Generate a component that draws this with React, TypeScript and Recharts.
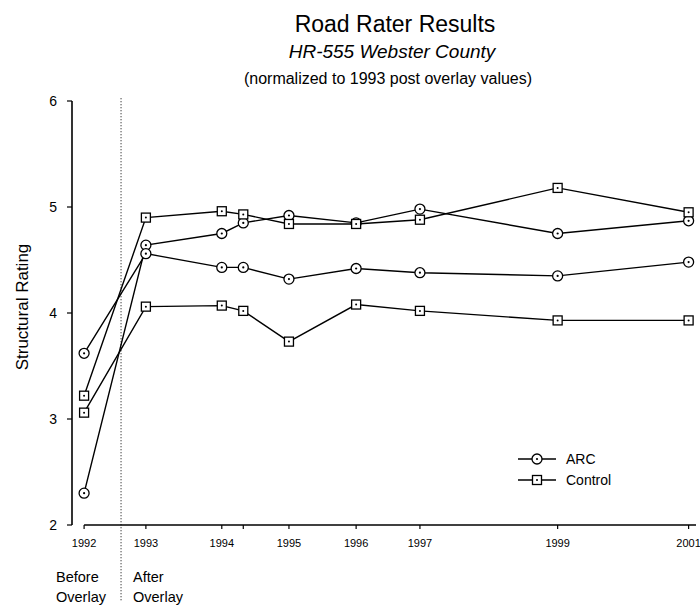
import React from 'react';
import { LineChart, Line, XAxis, YAxis, ReferenceLine } from 'recharts';

// measurement dates (decimal years) and the year labels printed under them
const dates = [1992.45, 1993.37, 1994.5, 1994.82, 1995.5, 1996.5, 1997.45, 1999.5, 2001.45];
const yearLabels = ['1992', '1993', '1994', '', '1995', '1996', '1997', '1999', '2001'];

// normalized structural ratings
const arcA = [2.3, 4.64, 4.75, 4.85, 4.92, 4.85, 4.98, 4.75, 4.87];
const arcB = [3.62, 4.56, 4.43, 4.43, 4.32, 4.42, 4.38, 4.35, 4.48];
const controlA = [3.22, 4.9, 4.96, 4.93, 4.84, 4.84, 4.88, 5.18, 4.95];
const controlB = [3.06, 4.06, 4.07, 4.02, 3.73, 4.08, 4.02, 3.93, 3.93];

const yTicks = [2, 3, 4, 5, 6];
const overlayDate = 1993.0;

const legendItems = [
    { name: 'ARC', shape: 'circle' },
    { name: 'Control', shape: 'square' },
];

const data = dates.map((t, i) => ({
    t,
    arcA: arcA[i],
    arcB: arcB[i],
    controlA: controlA[i],
    controlB: controlB[i],
}));

const FONT = '"Liberation Sans", Arial, sans-serif';

const CircleDot = (props: any) => {
    const { cx, cy } = props;
    if (cx == null || cy == null) return null;
    return (
        <g>
            <circle cx={cx} cy={cy} r={5} fill="#fff" stroke="#000" strokeWidth={1.3} />
            <circle cx={cx} cy={cy} r={1.1} fill="#000" />
        </g>
    );
};

const SquareDot = (props: any) => {
    const { cx, cy } = props;
    if (cx == null || cy == null) return null;
    return (
        <g>
            <rect x={cx - 4.5} y={cy - 4.5} width={9} height={9} fill="#fff" stroke="#000" strokeWidth={1.3} />
            <circle cx={cx} cy={cy} r={1} fill="#000" />
        </g>
    );
};

// legend is drawn as an overlay so it doesn't eat into the plot area
const ChartLegend = () => (
    <div style={{ position: 'absolute', left: 518, top: 448, fontSize: 14 }}>
        {legendItems.map((item) => (
            <div key={item.name} style={{ display: 'flex', alignItems: 'center', height: 21 }}>
                <svg width={40} height={14}>
                    <line x1={0} y1={7} x2={38} y2={7} stroke="#000" strokeWidth={1.3} />
                    {item.shape === 'circle' ? <CircleDot cx={19} cy={7} /> : <SquareDot cx={19} cy={7} />}
                </svg>
                <span style={{ marginLeft: 8 }}>{item.name}</span>
            </div>
        ))}
    </div>
);

export default function App() {
    return (
        <div
            style={{
                position: 'absolute',
                left: 0,
                top: 0,
                width: 700,
                height: 606,
                background: '#fff',
                fontFamily: FONT,
                color: '#000',
            }}
        >
            <LineChart
                width={700}
                height={606}
                data={data}
                margin={{ top: 101, right: 4, bottom: 51, left: 32 }}
                style={{ position: 'absolute', left: 0, top: 0 }}
            >
                <XAxis
                    type="number"
                    dataKey="t"
                    domain={[1992.27, 2001.56]}
                    allowDataOverflow
                    ticks={dates}
                    interval={0}
                    tickFormatter={(v: number) => yearLabels[dates.indexOf(v)] ?? ''}
                    axisLine={false}
                    tickLine={{ stroke: '#000', strokeWidth: 1.2 }}
                    tickSize={4}
                    tickMargin={10}
                    height={30}
                    tick={{ fontSize: 11, fill: '#000', fontFamily: FONT }}
                />
                <YAxis
                    type="number"
                    domain={[2, 6]}
                    ticks={yTicks}
                    interval={0}
                    width={40}
                    axisLine={{ stroke: '#000', strokeWidth: 1.6 }}
                    tickLine={{ stroke: '#000', strokeWidth: 1.2 }}
                    tickSize={5}
                    tickMargin={10}
                    tick={{ fontSize: 14, fill: '#000', fontFamily: FONT }}
                />
                <ReferenceLine
                    segment={[
                        { x: dates[0], y: 2 },
                        { x: 2001.56, y: 2 },
                    ]}
                    stroke="#000"
                    strokeWidth={1.4}
                />
                <ReferenceLine
                    segment={[
                        { x: overlayDate, y: 1.29 },
                        { x: overlayDate, y: 6.04 },
                    ]}
                    ifOverflow="visible"
                    stroke="#000"
                    strokeWidth={1}
                    strokeDasharray="1 2"
                />
                <Line
                    dataKey="arcA"
                    stroke="#000"
                    strokeWidth={1.4}
                    dot={(p: any) => <CircleDot key={`arcA-${p.index}`} {...p} />}
                    isAnimationActive={false}
                />
                <Line
                    dataKey="arcB"
                    stroke="#000"
                    strokeWidth={1.4}
                    dot={(p: any) => <CircleDot key={`arcB-${p.index}`} {...p} />}
                    isAnimationActive={false}
                />
                <Line
                    dataKey="controlA"
                    stroke="#000"
                    strokeWidth={1.4}
                    dot={(p: any) => <SquareDot key={`controlA-${p.index}`} {...p} />}
                    isAnimationActive={false}
                />
                <Line
                    dataKey="controlB"
                    stroke="#000"
                    strokeWidth={1.4}
                    dot={(p: any) => <SquareDot key={`controlB-${p.index}`} {...p} />}
                    isAnimationActive={false}
                />
            </LineChart>

            <ChartLegend />

            <div style={{ position: 'absolute', left: 0, width: 790, top: 11, textAlign: 'center', fontSize: 23 }}>
                Road Rater Results
            </div>
            <div
                style={{
                    position: 'absolute',
                    left: 0,
                    width: 784,
                    top: 41,
                    textAlign: 'center',
                    fontSize: 19,
                    fontStyle: 'italic',
                }}
            >
                HR-555 Webster County
            </div>
            <div style={{ position: 'absolute', left: 0, width: 776, top: 70, textAlign: 'center', fontSize: 16 }}>
                (normalized to 1993 post overlay values)
            </div>
            <div
                style={{
                    position: 'absolute',
                    left: 23,
                    top: 307,
                    transform: 'translate(-50%, -50%) rotate(-90deg)',
                    fontSize: 17,
                    whiteSpace: 'nowrap',
                }}
            >
                Structural Rating
            </div>
            <div style={{ position: 'absolute', left: 56, top: 567, fontSize: 14.5, lineHeight: '20px' }}>
                Before
                <br />
                Overlay
            </div>
            <div style={{ position: 'absolute', left: 133, top: 567, fontSize: 14.5, lineHeight: '20px' }}>
                After
                <br />
                Overlay
            </div>
        </div>
    );
}
